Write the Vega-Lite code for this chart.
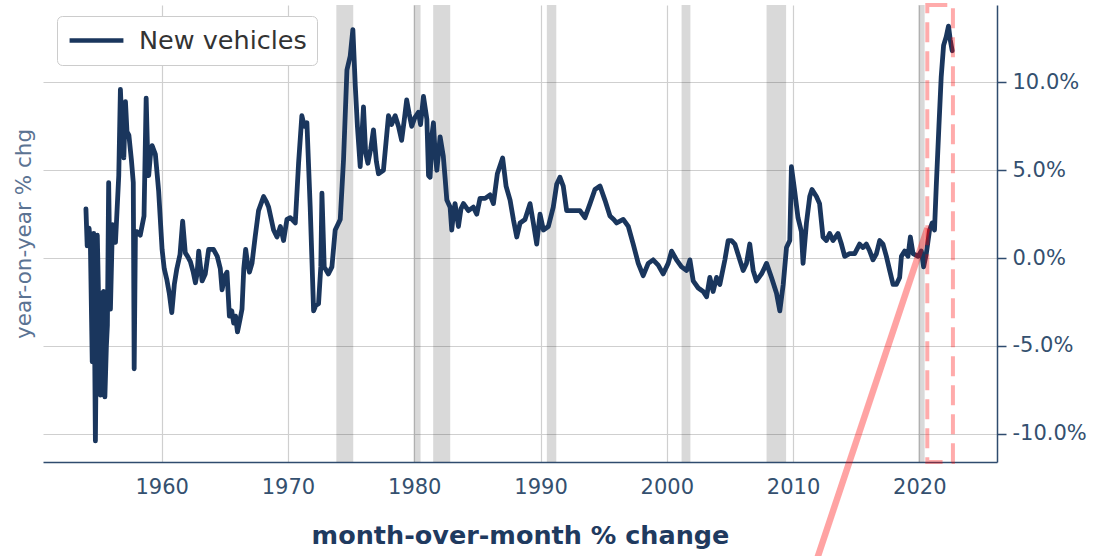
{
  "$schema": "https://vega.github.io/schema/vega-lite/v6.json",
  "width": 954,
  "height": 457,
  "autosize": {"type": "none"},
  "padding": {"left": 43, "top": 5, "right": 102, "bottom": 94},
  "background": "white",
  "config": {"font": "DejaVu Sans", "view": {"stroke": null}},
  "datasets": {
    "recessions": [
      {"year": 1973.83, "year_end": 1975.17},
      {"year": 1979.95, "year_end": 1980.5},
      {"year": 1981.5, "year_end": 1982.85},
      {"year": 1990.5, "year_end": 1991.25},
      {"year": 2001.17, "year_end": 2001.87},
      {"year": 2007.9, "year_end": 2009.45},
      {"year": 2019.92, "year_end": 2020.42}
    ],
    "highlight": [{"year": 2020.63, "year_end": 2022.66}],
    "arrow": [{"year": 2011.95, "value": -17.0, "year_end": 2020.64, "value_end": 1.7}],
    "series": [
      {"year": 1954.0, "value": 2.8}, {"year": 1954.1, "value": 0.7}, {"year": 1954.25, "value": 1.7},
      {"year": 1954.35, "value": 0.9}, {"year": 1954.5, "value": -5.9}, {"year": 1954.62, "value": 1.4},
      {"year": 1954.75, "value": -10.4}, {"year": 1954.9, "value": 1.3}, {"year": 1955.05, "value": -4.0},
      {"year": 1955.15, "value": -7.8}, {"year": 1955.3, "value": -2.0}, {"year": 1955.4, "value": -1.9},
      {"year": 1955.5, "value": -7.9}, {"year": 1955.62, "value": -5.0}, {"year": 1955.7, "value": -3.8},
      {"year": 1955.8, "value": 4.3}, {"year": 1955.94, "value": -2.9}, {"year": 1956.1, "value": 1.9},
      {"year": 1956.34, "value": 0.9}, {"year": 1956.6, "value": 4.7}, {"year": 1956.73, "value": 9.6},
      {"year": 1956.85, "value": 7.5}, {"year": 1957.0, "value": 5.7}, {"year": 1957.13, "value": 8.9},
      {"year": 1957.25, "value": 7.2}, {"year": 1957.4, "value": 7.0}, {"year": 1957.6, "value": 5.6},
      {"year": 1957.75, "value": 4.3}, {"year": 1957.82, "value": -6.3}, {"year": 1957.92, "value": 1.5},
      {"year": 1958.05, "value": 1.5}, {"year": 1958.3, "value": 1.3}, {"year": 1958.6, "value": 2.4},
      {"year": 1958.77, "value": 9.1}, {"year": 1958.9, "value": 5.5}, {"year": 1958.97, "value": 4.7},
      {"year": 1959.1, "value": 5.8}, {"year": 1959.24, "value": 6.4}, {"year": 1959.5, "value": 5.9},
      {"year": 1959.76, "value": 3.8}, {"year": 1960.03, "value": 0.5}, {"year": 1960.2, "value": -0.6},
      {"year": 1960.4, "value": -1.2}, {"year": 1960.6, "value": -2.0}, {"year": 1960.8, "value": -3.1},
      {"year": 1961.0, "value": -1.5}, {"year": 1961.2, "value": -0.6}, {"year": 1961.45, "value": 0.2},
      {"year": 1961.66, "value": 2.1}, {"year": 1961.87, "value": 0.3}, {"year": 1962.05, "value": 0.1},
      {"year": 1962.27, "value": -0.2}, {"year": 1962.5, "value": -0.8}, {"year": 1962.67, "value": -1.4},
      {"year": 1962.8, "value": -0.9}, {"year": 1962.93, "value": 0.4}, {"year": 1963.2, "value": -1.3},
      {"year": 1963.45, "value": -0.9}, {"year": 1963.72, "value": 0.5}, {"year": 1964.1, "value": 0.5},
      {"year": 1964.4, "value": 0.1}, {"year": 1964.64, "value": -0.6}, {"year": 1964.78, "value": -1.8},
      {"year": 1965.0, "value": -1.0}, {"year": 1965.17, "value": -0.8}, {"year": 1965.36, "value": -3.3},
      {"year": 1965.55, "value": -3.0}, {"year": 1965.7, "value": -3.7}, {"year": 1965.85, "value": -3.3},
      {"year": 1966.0, "value": -4.2}, {"year": 1966.2, "value": -3.5}, {"year": 1966.36, "value": -2.9},
      {"year": 1966.5, "value": -0.6}, {"year": 1966.65, "value": 0.5}, {"year": 1966.8, "value": -0.3},
      {"year": 1966.95, "value": -0.8}, {"year": 1967.15, "value": -0.3}, {"year": 1967.4, "value": 1.2},
      {"year": 1967.67, "value": 2.7}, {"year": 1968.07, "value": 3.5}, {"year": 1968.3, "value": 3.2},
      {"year": 1968.47, "value": 2.9}, {"year": 1968.86, "value": 1.6}, {"year": 1969.13, "value": 1.2},
      {"year": 1969.4, "value": 1.8}, {"year": 1969.65, "value": 1.0}, {"year": 1969.92, "value": 2.2},
      {"year": 1970.18, "value": 2.3}, {"year": 1970.58, "value": 2.0}, {"year": 1970.84, "value": 5.4},
      {"year": 1971.1, "value": 8.1}, {"year": 1971.3, "value": 7.5}, {"year": 1971.5, "value": 7.7},
      {"year": 1971.76, "value": 2.9}, {"year": 1972.03, "value": -3.0}, {"year": 1972.2, "value": -2.7},
      {"year": 1972.42, "value": -2.6}, {"year": 1972.6, "value": -0.5}, {"year": 1972.69, "value": 3.7},
      {"year": 1972.87, "value": -0.5}, {"year": 1973.2, "value": -0.9}, {"year": 1973.48, "value": -0.5},
      {"year": 1973.74, "value": 1.6}, {"year": 1974.14, "value": 2.2}, {"year": 1974.4, "value": 5.6},
      {"year": 1974.67, "value": 10.7}, {"year": 1974.93, "value": 11.5}, {"year": 1975.14, "value": 13.0},
      {"year": 1975.33, "value": 9.8}, {"year": 1975.5, "value": 7.5}, {"year": 1975.72, "value": 5.2},
      {"year": 1975.98, "value": 8.6}, {"year": 1976.15, "value": 6.0}, {"year": 1976.33, "value": 5.4},
      {"year": 1976.55, "value": 6.2}, {"year": 1976.77, "value": 7.3}, {"year": 1977.0, "value": 5.5},
      {"year": 1977.17, "value": 4.8}, {"year": 1977.56, "value": 5.0}, {"year": 1977.96, "value": 8.1},
      {"year": 1978.2, "value": 7.6}, {"year": 1978.49, "value": 8.1}, {"year": 1978.75, "value": 7.5},
      {"year": 1979.0, "value": 6.7}, {"year": 1979.2, "value": 7.8}, {"year": 1979.4, "value": 9.0},
      {"year": 1979.6, "value": 8.2}, {"year": 1979.8, "value": 7.5}, {"year": 1980.05, "value": 8.0},
      {"year": 1980.33, "value": 8.3}, {"year": 1980.5, "value": 7.6}, {"year": 1980.73, "value": 9.2},
      {"year": 1981.0, "value": 7.9}, {"year": 1981.13, "value": 4.7}, {"year": 1981.26, "value": 4.6},
      {"year": 1981.4, "value": 7.0}, {"year": 1981.52, "value": 7.7}, {"year": 1981.65, "value": 6.0},
      {"year": 1981.79, "value": 5.0}, {"year": 1982.05, "value": 6.9}, {"year": 1982.3, "value": 5.8},
      {"year": 1982.45, "value": 4.5}, {"year": 1982.58, "value": 3.3}, {"year": 1982.84, "value": 2.9},
      {"year": 1982.97, "value": 1.6}, {"year": 1983.1, "value": 2.5}, {"year": 1983.23, "value": 3.1},
      {"year": 1983.5, "value": 1.8}, {"year": 1983.7, "value": 2.8}, {"year": 1983.9, "value": 3.1},
      {"year": 1984.29, "value": 2.7}, {"year": 1984.68, "value": 2.9}, {"year": 1984.95, "value": 2.5},
      {"year": 1985.21, "value": 3.4}, {"year": 1985.61, "value": 3.4}, {"year": 1986.0, "value": 3.6},
      {"year": 1986.27, "value": 3.1}, {"year": 1986.58, "value": 4.8}, {"year": 1987.0, "value": 5.7},
      {"year": 1987.27, "value": 4.1}, {"year": 1987.59, "value": 3.3}, {"year": 1987.85, "value": 2.2},
      {"year": 1988.12, "value": 1.2}, {"year": 1988.38, "value": 2.0}, {"year": 1988.77, "value": 2.2},
      {"year": 1989.17, "value": 3.1}, {"year": 1989.43, "value": 2.0}, {"year": 1989.7, "value": 0.8},
      {"year": 1989.96, "value": 2.5}, {"year": 1990.23, "value": 1.6}, {"year": 1990.62, "value": 1.8},
      {"year": 1991.01, "value": 2.9}, {"year": 1991.28, "value": 4.2}, {"year": 1991.54, "value": 4.6},
      {"year": 1991.8, "value": 4.1}, {"year": 1992.07, "value": 2.7}, {"year": 1992.6, "value": 2.7},
      {"year": 1993.12, "value": 2.7}, {"year": 1993.52, "value": 2.3}, {"year": 1993.92, "value": 3.1},
      {"year": 1994.31, "value": 3.9}, {"year": 1994.71, "value": 4.1}, {"year": 1995.1, "value": 3.3},
      {"year": 1995.5, "value": 2.4}, {"year": 1995.8, "value": 2.2}, {"year": 1996.03, "value": 2.0},
      {"year": 1996.55, "value": 2.2}, {"year": 1996.95, "value": 1.8}, {"year": 1997.34, "value": 0.8},
      {"year": 1997.74, "value": -0.3}, {"year": 1998.13, "value": -1.0}, {"year": 1998.53, "value": -0.3},
      {"year": 1998.92, "value": -0.1}, {"year": 1999.32, "value": -0.4}, {"year": 1999.71, "value": -0.9},
      {"year": 2000.11, "value": -0.3}, {"year": 2000.38, "value": 0.4}, {"year": 2000.77, "value": -0.1},
      {"year": 2001.17, "value": -0.5}, {"year": 2001.57, "value": -0.7}, {"year": 2001.83, "value": -0.1},
      {"year": 2002.09, "value": -1.3}, {"year": 2002.49, "value": -1.7}, {"year": 2002.88, "value": -1.9},
      {"year": 2003.15, "value": -2.2}, {"year": 2003.41, "value": -1.1}, {"year": 2003.67, "value": -1.9},
      {"year": 2003.94, "value": -1.1}, {"year": 2004.2, "value": -1.5}, {"year": 2004.6, "value": -0.1},
      {"year": 2004.86, "value": 1.0}, {"year": 2005.13, "value": 1.0}, {"year": 2005.39, "value": 0.8},
      {"year": 2005.78, "value": -0.1}, {"year": 2006.05, "value": -0.7}, {"year": 2006.31, "value": -0.3},
      {"year": 2006.57, "value": 0.8}, {"year": 2006.84, "value": -0.7}, {"year": 2007.1, "value": -1.3},
      {"year": 2007.5, "value": -0.9}, {"year": 2007.9, "value": -0.3}, {"year": 2008.29, "value": -1.1},
      {"year": 2008.69, "value": -2.0}, {"year": 2008.95, "value": -3.0}, {"year": 2009.22, "value": -1.5},
      {"year": 2009.48, "value": 0.6}, {"year": 2009.74, "value": 1.0}, {"year": 2009.87, "value": 5.2},
      {"year": 2010.13, "value": 3.8}, {"year": 2010.39, "value": 2.3}, {"year": 2010.66, "value": 1.5},
      {"year": 2010.79, "value": -0.3}, {"year": 2011.06, "value": 2.0}, {"year": 2011.32, "value": 3.5},
      {"year": 2011.5, "value": 3.9}, {"year": 2011.85, "value": 3.5}, {"year": 2012.1, "value": 3.1},
      {"year": 2012.37, "value": 1.2}, {"year": 2012.64, "value": 1.0}, {"year": 2012.9, "value": 1.4},
      {"year": 2013.16, "value": 1.0}, {"year": 2013.56, "value": 1.4}, {"year": 2013.83, "value": 0.8},
      {"year": 2014.09, "value": 0.1}, {"year": 2014.48, "value": 0.25}, {"year": 2014.88, "value": 0.25},
      {"year": 2015.27, "value": 0.8}, {"year": 2015.54, "value": 0.6}, {"year": 2015.8, "value": 0.8},
      {"year": 2016.07, "value": 0.4}, {"year": 2016.33, "value": -0.1}, {"year": 2016.6, "value": 0.25},
      {"year": 2016.86, "value": 1.0}, {"year": 2017.12, "value": 0.8}, {"year": 2017.39, "value": 0.1},
      {"year": 2017.65, "value": -0.7}, {"year": 2017.92, "value": -1.5}, {"year": 2018.18, "value": -1.5},
      {"year": 2018.44, "value": -1.1}, {"year": 2018.58, "value": 0.1}, {"year": 2018.84, "value": 0.4},
      {"year": 2019.1, "value": 0.1}, {"year": 2019.29, "value": 1.2}, {"year": 2019.5, "value": 0.25},
      {"year": 2019.9, "value": 0.1}, {"year": 2020.16, "value": 0.4}, {"year": 2020.34, "value": -0.5},
      {"year": 2020.55, "value": 0.25}, {"year": 2020.81, "value": 1.6}, {"year": 2021.02, "value": 2.0},
      {"year": 2021.2, "value": 1.6}, {"year": 2021.34, "value": 4.1}, {"year": 2021.55, "value": 7.5},
      {"year": 2021.73, "value": 10.3}, {"year": 2021.92, "value": 12.1}, {"year": 2022.13, "value": 12.6},
      {"year": 2022.31, "value": 13.2}, {"year": 2022.45, "value": 12.4}, {"year": 2022.6, "value": 11.8}
    ]
  },
  "encoding": {
    "x": {
      "field": "year",
      "type": "quantitative",
      "scale": {"domain": [1950.6, 2026.15], "nice": false, "zero": false},
      "axis": {
        "values": [1960, 1970, 1980, 1990, 2000, 2010, 2020],
        "format": "d",
        "title": "month-over-month % change",
        "grid": true,
        "gridColor": "#cfcfcf",
        "gridWidth": 1.2,
        "ticks": false,
        "tickSize": 0,
        "domainColor": "#2f4b6e",
        "domainWidth": 1.5,
        "labelColor": "#34506f",
        "labelFontSize": 21,
        "labelPadding": 14,
        "titleFontSize": 25.5,
        "titleFontWeight": "bold",
        "titleColor": "#1f3a5f",
        "titlePadding": 26
      }
    }
  },
  "layer": [
    {
      "data": {"name": "recessions"},
      "mark": {"type": "rect", "color": "#000000", "opacity": 0.15},
      "encoding": {"x2": {"field": "year_end"}}
    },
    {
      "data": {"name": "series"},
      "mark": {"type": "line", "strokeWidth": 4.8, "strokeJoin": "round", "strokeCap": "round"},
      "encoding": {
        "y": {
          "field": "value",
          "type": "quantitative",
          "scale": {"domain": [-11.6, 14.4], "nice": false, "zero": false},
          "axis": {
            "orient": "right",
            "values": [-10, -5, 0, 5, 10],
            "labelExpr": "(datum.value < 0 ? '-' : '') + format(abs(datum.value), '.1f') + '%'",
            "title": null,
            "grid": true,
            "gridColor": "#cfcfcf",
            "gridWidth": 1.2,
            "domainColor": "#2f4b6e",
            "domainWidth": 1.5,
            "tickColor": "#2f4b6e",
            "tickWidth": 1.5,
            "tickSize": 9,
            "labelColor": "#34506f",
            "labelFontSize": 21,
            "labelPadding": 6
          }
        },
        "color": {
          "datum": "New vehicles",
          "type": "nominal",
          "scale": {"range": ["#1a365d"]},
          "legend": {
            "title": null,
            "orient": "none",
            "legendX": 14,
            "legendY": 11,
            "fillColor": "white",
            "strokeColor": "#cccccc",
            "cornerRadius": 5,
            "padding": 10,
            "clipHeight": 29,
            "symbolType": "stroke",
            "symbolSize": 2900,
            "symbolStrokeWidth": 4.5,
            "labelFontSize": 25.5,
            "labelLimit": 400,
            "labelColor": "#333333",
            "labelOffset": 13
          }
        }
      }
    },
    {
      "data": {"name": "highlight"},
      "mark": {"type": "rect", "filled": false, "color": "#ff0000", "opacity": 0.33, "strokeWidth": 4, "strokeDash": [20, 9]},
      "encoding": {"x2": {"field": "year_end"}}
    },
    {
      "data": {"name": "arrow"},
      "mark": {"type": "rule", "color": "#ff0000", "opacity": 0.36, "strokeWidth": 6.5, "strokeCap": "butt"},
      "encoding": {
        "x2": {"field": "year_end"},
        "y": {
          "field": "value",
          "type": "quantitative",
          "scale": {"domain": [-11.6, 14.4], "nice": false, "zero": false},
          "axis": {
            "orient": "left",
            "title": "year-on-year % chg",
            "labels": false,
            "ticks": false,
            "domain": false,
            "grid": false,
            "titleFontSize": 21.5,
            "titleFontWeight": "normal",
            "titleColor": "#5b7393",
            "titlePadding": 8
          }
        },
        "y2": {"field": "value_end"}
      }
    }
  ],
  "resolve": {"axis": {"y": "independent"}}
}
